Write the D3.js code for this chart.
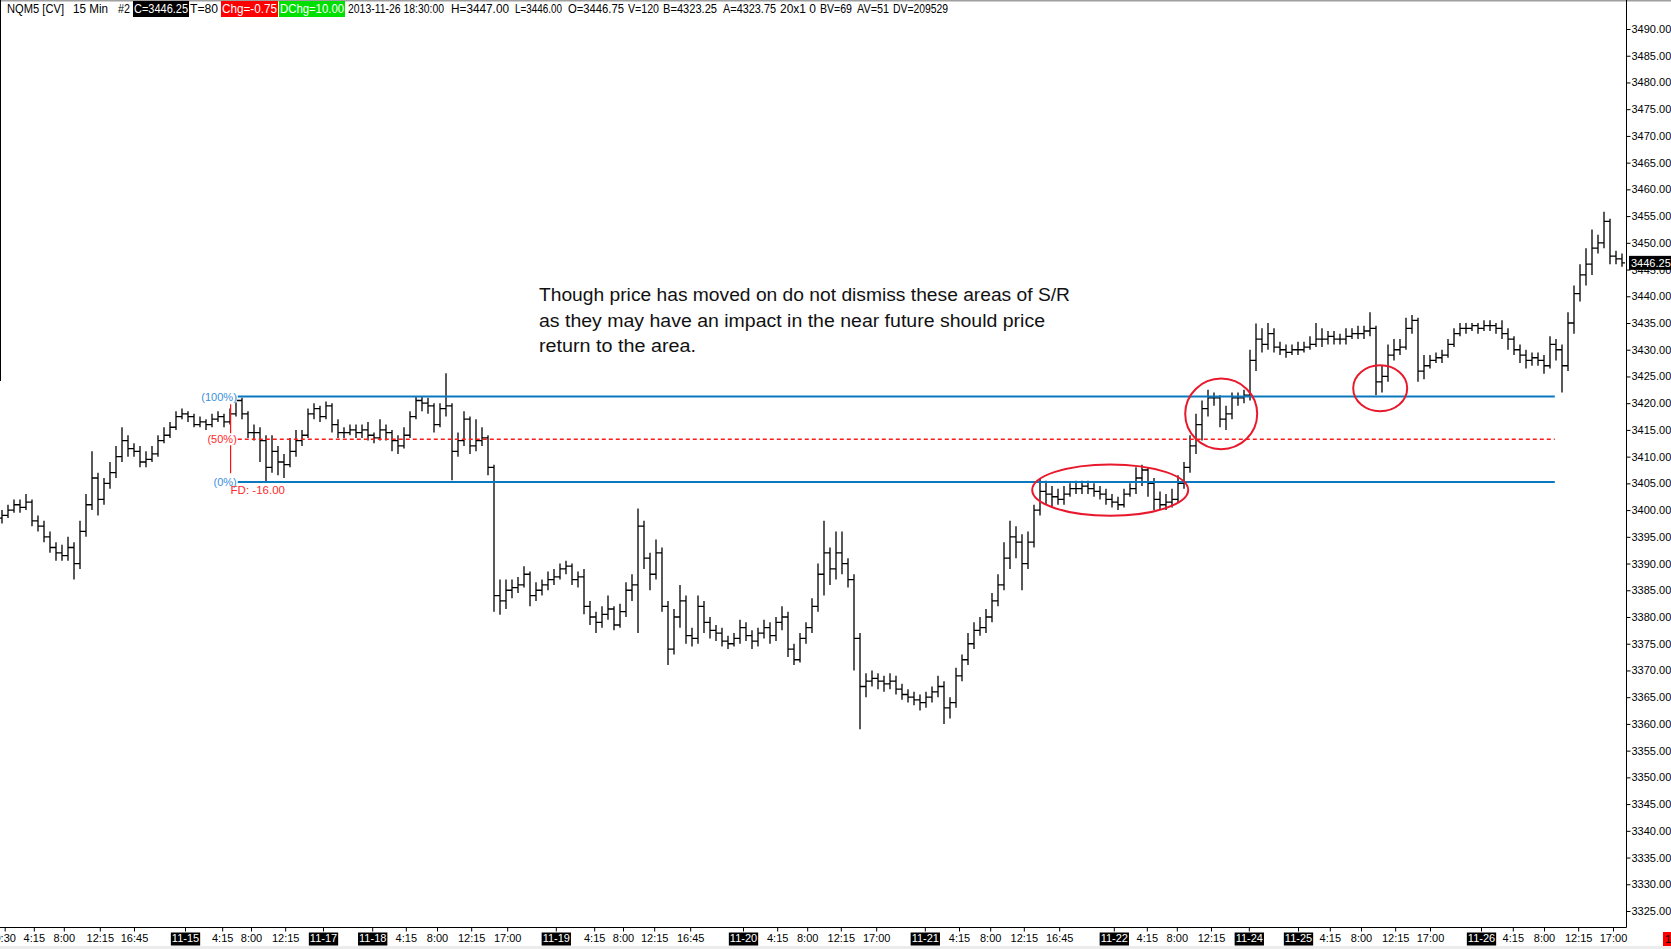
<!DOCTYPE html>
<html>
<head>
<meta charset="utf-8">
<script src="https://cdnjs.cloudflare.com/ajax/libs/d3/7.8.5/d3.min.js"></script>
<style>
body{margin:0;background:#fff;overflow:hidden}
svg{display:block}
text{font-family:"Liberation Sans",Arial,sans-serif}
</style>
</head>
<body>
<div id="chart"></div>
<script>

// NQM5 15 min, one drawn bar = 45 min, open = previous close
var firstOpen = 3398.5;
var closes = [
3399,3400,3401,3400.5,3401.5,3398,3397,3395,3393,3392,
3391.5,3393,3390,3396,3401,3406,3402,3405,3407,3410,
3413,3411.5,3411,3409,3409.5,3410.5,3413,3414,3415.5,3417.5,
3418,3417.5,3416,3416.5,3416,3417,3417.5,3416.5,3418,3420.5,
3418,3414.5,3414.5,3413,3408,3411,3409,3408.5,3411,3413,
3414,3418,3419,3417.5,3419.5,3416,3414.5,3414.5,3415,3414.5,
3415,3414,3413.5,3415,3414.5,3413,3412,3414,3417.5,3420.5,
3420,3419.5,3416,3419,3419.5,3411,3413,3417,3412,3413,
3413.5,3408,3384,3383,3385,3385.5,3386,3388,3384,3385,
3386,3387,3387.5,3389,3389.5,3387,3387.5,3382,3380,3379,
3380.5,3381.5,3378.5,3381,3385,3386,3397,3391,3388,3392,
3382,3374,3380,3383,3376.5,3376,3382,3379,3377.5,3377,
3375.5,3375,3376,3378,3376.5,3375.5,3377,3378,3376.5,3379,
3380,3374,3372,3376,3378,3382,3388,3392,3389,3392,
3390,3387,3376,3367,3368,3368.5,3368,3367.5,3368,3366.5,
3365.5,3365,3364.5,3364,3365,3366,3367,3363,3364,3369,
3372,3375,3377.5,3378,3380,3383,3386,3391,3395,3394,
3390,3394,3400,3403.5,3403,3402.5,3402,3403,3404,3404,
3404.5,3404,3403.5,3403,3402,3401.5,3401,3403,3404,3406,
3407.5,3405,3402,3401,3401.5,3402,3405,3408,3412,3416,
3419,3421,3421,3417,3418,3421,3421,3421.5,3428,3432,
3431,3433,3430.5,3430,3429.5,3430,3430,3430.5,3431,3432,
3432,3432.5,3432,3432,3432.5,3433,3433,3433.5,3434,3424,
3425,3429,3430,3430.5,3434,3435.5,3426,3427,3428,3428.5,
3429,3431,3433,3434,3434,3434.5,3434,3434.5,3434.5,3434,
3433,3432,3430,3429,3428,3428.5,3428,3427,3431,3430,
3427,3435,3440.5,3444,3446,3449,3450,3454,3447.5,3447,3446.25
];
var highs = [
3400,3401,3402,3402,3403,3402,3399,3398,3396,3394,
3393.5,3395,3394,3398,3403,3411,3407,3406,3409,3412,
3415.5,3414,3412.5,3412,3411,3412,3414,3415.5,3416.5,3418.5,
3419,3418.5,3418,3417.5,3417,3418,3418.5,3418,3419,3421.3,
3421,3418.5,3416,3415.5,3414,3414,3412,3410.5,3413.5,3415,
3415,3419,3420,3419.5,3420.3,3420,3417,3415.5,3416,3416,
3416,3416.5,3414.5,3417,3416,3415,3414,3415.5,3418.5,3421.3,
3421.3,3421,3420,3420,3425.6,3420,3414.5,3418.5,3417.5,3417,
3415.5,3414,3408.5,3387,3387,3387,3387.5,3389.5,3388.5,3386.5,
3387,3388.5,3389,3390,3390.5,3390,3388.5,3389,3383,3381,
3382,3384,3382,3382.5,3386.5,3388,3400.3,3398,3392,3394.5,
3393,3383,3381.5,3386,3384,3378,3384,3383,3380,3378.5,
3378,3376.5,3377,3379.5,3379,3377.5,3378,3379.5,3379,3380,
3382,3381,3375,3377,3379,3383.5,3390,3398,3393,3396,
3396,3391,3388,3377,3369.5,3370,3369.5,3369,3369.5,3369,
3367.5,3366.5,3366,3365.5,3366,3367,3369,3368,3365,3370.5,
3373,3377,3379,3380,3381.5,3384.5,3388,3394,3398,3397,
3395.5,3396,3401,3406,3405.5,3404.5,3404,3404.5,3405,3405.5,
3405.5,3405.5,3405,3404.5,3404,3403,3402.5,3404,3405,3408,
3408.5,3408,3406,3403.5,3403,3404,3406.5,3409,3414,3418,
3420.5,3422.5,3422,3421.5,3419.5,3422,3422,3422.5,3430,3434.9,
3434,3435,3434,3431.5,3431,3431,3431.5,3431.5,3432.5,3435,
3434,3433.5,3433.5,3433,3434,3434,3434.5,3434.5,3437,3434.5,
3427,3431,3432,3432,3436,3436.5,3436,3429,3429,3429.5,
3430,3432,3434,3435,3435,3435,3435,3435.5,3435.5,3435,
3435.5,3434,3432.5,3431,3430,3429.5,3429.5,3429,3432.5,3432,
3431,3437,3442,3446,3449,3452.5,3451.5,3455.8,3454.5,3448.5,3448
];
var lows = [
3397.5,3398.5,3399.5,3399.5,3400,3397,3396,3394,3392,3390.5,
3390.5,3390.5,3387,3389,3395,3400,3399,3401,3404,3406,
3409,3410,3410,3408,3408,3409,3410,3412.5,3413.5,3415,
3417,3416.5,3415.5,3415.5,3415,3415.5,3416.5,3415.5,3416,3417.5,
3417,3413.5,3413,3409,3405.3,3407,3406.5,3406,3408,3410,
3412,3413.5,3417,3416.5,3417,3414.5,3413.5,3413.5,3414,3413.5,
3413.5,3413,3412.5,3413,3413,3411,3410.5,3411.5,3413.5,3417,
3418.5,3418,3414.5,3415.5,3417.5,3405.6,3410,3412,3410.5,3411,
3412,3406.5,3381,3380.4,3381.5,3383.5,3384.5,3385.5,3382,3383,
3384,3385,3386,3387,3388,3386,3385.5,3380.5,3378.5,3377,
3378,3379.5,3377.5,3378,3380,3383,3377,3389,3385,3387,
3381,3371,3373,3378,3375,3374.5,3375,3377,3376,3375.5,
3374.5,3374,3374.5,3375,3375.5,3374,3374.5,3376,3375,3375.5,
3377.5,3372.5,3371,3371.5,3375,3377,3381,3384,3386,3387,
3388,3385.5,3370,3359,3365,3367,3366.5,3366,3366.5,3365.5,
3364.5,3364,3363.5,3362.5,3363,3364,3365,3360,3361,3363,
3368,3371,3374,3376.5,3377,3379,3382,3385,3389,3391,
3385,3389,3393,3399,3401,3400.5,3401,3401,3402.5,3403,
3403,3403,3402.5,3402,3401,3400.5,3400,3400.5,3402.5,3403,
3404.5,3402.5,3400,3400,3400,3400.5,3401.5,3404,3407,3410.5,
3413,3417.5,3419.5,3415.5,3415,3417,3419.5,3420,3420.5,3426,
3429.5,3430,3429.5,3429,3428.5,3429,3429,3429.5,3430,3430.5,
3430.5,3431,3431,3431,3431,3432,3432,3432,3432.5,3421.5,
3422,3424,3428,3429,3430,3433,3424,3424.5,3426.5,3427.5,
3427.5,3428.5,3430.5,3432.5,3433,3433.5,3433,3433.5,3433.5,3433,
3432,3430,3429,3427.5,3426.5,3427,3427,3425.5,3426.5,3428,
3422,3426,3433,3439,3442,3444,3448,3449,3446,3446,3445.5
];

// time axis, positions in bar units
var tickLabels = ["0:30","4:15","8:00","12:15","16:45","11-15","4:15","8:00","12:15","11-17",
  "11-18","4:15","8:00","12:15","17:00","11-19","4:15","8:00","12:15","16:45",
  "11-20","4:15","8:00","12:15","17:00","11-21","4:15","8:00","12:15","16:45",
  "11-22","4:15","8:00","12:15","11-24","11-25","4:15","8:00","12:15","17:00",
  "11-26","4:15","8:00","12:15","17:00"];
var tickSlots = [0.45,5.3,10.3,16.3,22,30.5,36.7,41.5,47.2,53.5,
  61.7,67.3,72.5,78.2,84.2,92.3,98.7,103.5,108.7,114.7,
  123.5,129.2,134.2,139.8,145.7,153.8,159.5,164.7,170.3,176.2,
  185.3,190.8,195.8,201.5,207.8,216,221.3,226.5,232.2,238,
  246.5,251.8,257,262.7,268.5];

// price axis
var priceMin = 3325, priceMax = 3490;
var priceTicks = d3.range(priceMin, priceMax + 1, 5);
var lastPrice = 3446.25;

// S/R levels drawn on 11-15
var fibLevels = [3421.25, 3413.25, 3405.25];
var fibNames = ["(100%)", "(50%)", "(0%)"];
var fibSpan = [39.3, 258.8];

// red marks: centre slot, centre price, half width in bars, half height in points
var marks = [
  [184.7, 3403.75, 13, 4.8],
  [203.2, 3418.0, 6, 6.6],
  [229.7, 3422.8, 4.5, 4.3]
];

var noteLines = [
  "Though price has moved on do not dismiss these areas of S/R",
  "as they may have an impact in the near future should price",
  "return to the area."
];

var headerItems = ["NQM5 [CV]","15 Min","#2","C=3446.25","T=80","Chg=-0.75","DChg=10.00",
  "2013-11-26 18:30:00","H=3447.00","L=3446.00","O=3446.75","V=120","B=4323.25","A=4323.75",
  "20x1 0","BV=69","AV=51","DV=209529"];

var W = 1671, H = 949;
var g = {left: 2, right: 1622, top: 29, bottom: 911, axisX: 1626.5, axisY: 927.5};
// header layout: left edge and width of every item
var headerX = [7,73,118,134,190,222,280,348,451,515,568,628,663,723,780,820,857,893];
var headerW = [57,35,12,54,28,55,64,96,58,47,56,31,54,53,36,32,32,55];
var headerBg = {3: "#000", 5: "#ff0000", 6: "#00e000"};

var svg = d3.select("#chart").append("svg")
	.attr("width", W)
	.attr("height", H);

var x = d3.scaleLinear().domain([0, closes.length - 1]).range([g.left, g.right]);
var y = d3.scaleLinear().domain([priceMin, priceMax]).range([g.bottom, g.top]);

// frame
svg.append("line").attr("x1", 0).attr("x2", W).attr("y1", 0.5).attr("y2", 0.5)
	.attr("stroke", "#a0a0a0").attr("stroke-width", 2);
svg.append("rect").attr("x", 0).attr("y", 946).attr("width", W).attr("height", 3).attr("fill", "#ececec");
svg.append("line").attr("x1", 0.5).attr("x2", 0.5).attr("y1", 0).attr("y2", 381).attr("stroke", "#000");

// header
var head = svg.append("g").attr("class", "header");
headerItems.forEach(function(t, i) {
	if (headerBg[i]) {
		head.append("rect")
			.attr("x", headerX[i] - 1).attr("y", 1)
			.attr("width", headerW[i] + 2).attr("height", 16)
			.attr("fill", headerBg[i]);
	}
	head.append("text")
		.attr("x", headerX[i]).attr("y", 13)
		.attr("font-size", 12)
		.attr("textLength", headerW[i])
		.attr("lengthAdjust", "spacingAndGlyphs")
		.attr("fill", headerBg[i] ? "#fff" : "#000")
		.text(t);
});

// price bars
var bars = closes.map(function(c, i) {
	return {o: i ? closes[i - 1] : firstOpen, h: highs[i], l: lows[i], c: c};
});

svg.append("g").attr("class", "bars")
	.selectAll("path").data(bars)
	.enter().append("path")
	.attr("d", function(d, i) {
		var cx = x(i);
		return "M" + cx + "," + y(d.h) + "V" + y(d.l) +
			"M" + (cx - 3) + "," + y(d.o) + "H" + cx +
			"M" + cx + "," + y(d.c) + "H" + (cx + 3);
	})
	.attr("fill", "none")
	.attr("stroke", "#000")
	.attr("stroke-width", 1.3);

// S/R levels
var fib = svg.append("g").attr("class", "fib");
fib.append("line")
	.attr("x1", x(38.1)).attr("x2", x(38.1))
	.attr("y1", y(3419.8)).attr("y2", y(3406.9))
	.attr("stroke", "#ff1010").attr("stroke-width", 1.2);

fib.selectAll(".lvl").data(fibLevels).enter().append("line")
	.attr("class", "lvl")
	.attr("x1", x(fibSpan[0])).attr("x2", x(fibSpan[1]))
	.attr("y1", function(d) { return y(d); })
	.attr("y2", function(d) { return y(d); })
	.attr("stroke", function(d, i) { return i == 1 ? "#ff1a1a" : "#0a78be"; })
	.attr("stroke-width", function(d, i) { return i == 1 ? 1.6 : 2; })
	.attr("stroke-dasharray", function(d, i) { return i == 1 ? "4,3" : null; });

fibLevels.forEach(function(v, i) {
	var t = fib.append("text")
		.attr("x", x(fibSpan[0]) - 1).attr("y", y(v) + 4)
		.attr("text-anchor", "end")
		.attr("font-size", 11)
		.attr("fill", i == 1 ? "#ff2a2a" : "#3a8fdc")
		.text(fibNames[i]);
	var b = t.node().getBBox();
	fib.insert("rect", "text").attr("x", b.x).attr("y", b.y).attr("width", b.width).attr("height", b.height).attr("fill", "#fff");
});

fib.append("text")
	.attr("x", x(38.1)).attr("y", y(fibLevels[2]) + 12)
	.attr("font-size", 11.5).attr("fill", "#ff2a2a")
	.text("FD: -16.00");

// circles
svg.append("g").selectAll("ellipse").data(marks).enter().append("ellipse")
	.attr("cx", function(d) { return x(d[0]); })
	.attr("cy", function(d) { return y(d[1]); })
	.attr("rx", function(d) { return x(d[0] + d[2]) - x(d[0]); })
	.attr("ry", function(d) { return y(d[1] - d[3]) - y(d[1]); })
	.attr("fill", "none")
	.attr("stroke", "#e8192c")
	.attr("stroke-width", 2);

// note
svg.append("g").selectAll("text").data(noteLines).enter().append("text")
	.attr("x", 539)
	.attr("y", function(d, i) { return 301 + i * 25.5; })
	.attr("font-family", "Lato, 'Open Sans', sans-serif")
	.attr("font-size", 17.5)
	.attr("fill", "#111")
	.attr("textLength", function(d, i) { return [531, 506, 157][i]; })
	.attr("lengthAdjust", "spacingAndGlyphs")
	.text(function(d) { return d; });

// price axis
var yAxis = d3.axisRight(y)
	.tickValues(priceTicks)
	.tickFormat(d3.format(".2f"))
	.tickSize(4)
	.tickPadding(1);

var ya = svg.append("g").attr("transform", "translate(" + g.axisX + ",0)").call(yAxis);
ya.select(".domain").remove();
ya.selectAll("text").attr("font-size", 11).attr("font-family", "Liberation Sans").attr("fill", "#000");
ya.selectAll("line").attr("stroke", "#000");

svg.append("line").attr("x1", g.axisX).attr("x2", g.axisX).attr("y1", 0).attr("y2", g.axisY)
	.attr("stroke", "#000");

svg.append("rect").attr("x", 1629).attr("y", y(lastPrice) - 7).attr("width", 42).attr("height", 14).attr("fill", "#000");
svg.append("text").attr("x", 1631).attr("y", y(lastPrice) + 4).attr("font-size", 11).attr("fill", "#fff")
	.text(d3.format(".2f")(lastPrice));

// time axis
var xAxis = d3.axisBottom(x)
	.tickValues(tickSlots)
	.tickFormat(function(d, i) { return tickLabels[i]; })
	.tickSize(4)
	.tickPadding(3);

var xa = svg.append("g").attr("transform", "translate(0," + g.axisY + ")").call(xAxis);
xa.select(".domain").remove();
xa.selectAll("line").attr("stroke", "#000");
xa.selectAll("text").attr("font-size", 11).attr("font-family", "Liberation Sans").attr("fill", "#000");

xa.selectAll(".tick").each(function(d, i) {
	if (tickLabels[i].indexOf("-") < 0) return;
	var t = d3.select(this).select("text").attr("fill", "#fff");
	var b = t.node().getBBox();
	d3.select(this).insert("rect", "text")
		.attr("x", b.x - 1).attr("y", 5).attr("width", b.width + 2).attr("height", 13)
		.attr("fill", "#000");
});

svg.append("line").attr("x1", 0).attr("x2", g.axisX).attr("y1", g.axisY).attr("y2", g.axisY)
	.attr("stroke", "#000");

svg.append("rect").attr("x", 1663).attr("y", 932).attr("width", 10).attr("height", 14).attr("fill", "#ff0000");
svg.append("text").attr("x", 1665).attr("y", 943).attr("font-size", 11).attr("fill", "#000").text("1");

</script>
</body>
</html>
